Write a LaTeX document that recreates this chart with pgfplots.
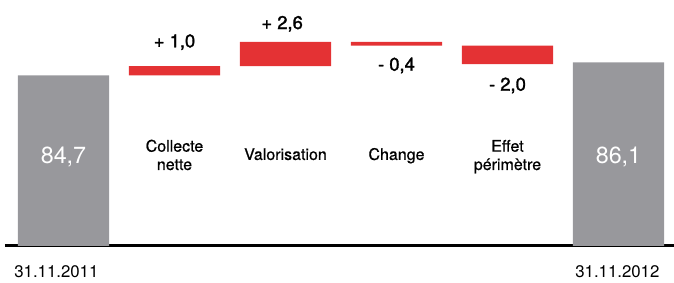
\documentclass[border=0pt]{standalone}
\usepackage{fontspec}
\setmainfont{TeX Gyre Heros}
\newfontfamily\medfont{TeX Gyre Heros}[FakeBold=1.6]
\newfontfamily\catfont{TeX Gyre Heros}[FakeBold=0.6]
\usepackage{pgfplots}
\pgfplotsset{compat=1.18}
\definecolor{wgray}{HTML}{98989C}
\definecolor{wred}{HTML}{E43234}
\begin{document}
\begin{tikzpicture}
\useasboundingbox (0,0) rectangle (505.5pt,211.5pt);
\begin{axis}[at={(0pt,27.225pt)}, anchor=south west, scale only axis,
  width=505.5pt, height=184.275pt,
  xmin=-0.572, xmax=5.5, ymin=66.38, ymax=92.80,
  hide axis, clip mode=individual,
  ybar stacked, bar width=0.82,
  every node/.style={inner sep=0pt},
  after end axis/.code={
    \node[anchor=base, text=white, font=\fontsize{17.5}{20}\selectfont] at (axis cs:0,75.24) {84,7};
    \node[anchor=base, text=white, font=\fontsize{17.5}{20}\selectfont] at (axis cs:5,75.24) {86,1};
  }]
\addplot[fill=none, draw=none] coordinates {(0,0) (1,84.7) (2,85.7) (3,87.9) (4,85.9) (5,0)};
\addplot[fill=wgray, draw=none] coordinates {(0,84.7) (1,0) (2,0) (3,0) (4,0) (5,86.1)};
\addplot[fill=wred, draw=none] coordinates {(0,0) (1,1.0) (2,2.6) (3,0.4) (4,2.0) (5,0)};
\draw[line width=2.25pt] (axis cs:-0.527,66.38) -- (axis cs:5.5,66.38);
\node[anchor=base, font=\medfont\fontsize{13.8}{15}\selectfont] at (axis cs:1,87.71) {+ 1,0};
\node[anchor=base, font=\medfont\fontsize{13.8}{15}\selectfont] at (axis cs:1.97,89.68) {+ 2,6};
\node[anchor=base, font=\medfont\fontsize{13.8}{15}\selectfont] at (axis cs:3,85.20) {- 0,4};
\node[anchor=base, font=\medfont\fontsize{13.8}{15}\selectfont] at (axis cs:4,83.05) {- 2,0};
\node[anchor=base, font=\catfont\fontsize{12}{14}\selectfont] at (axis cs:1,76.49) {Collecte};
\node[anchor=base, font=\catfont\fontsize{12}{14}\selectfont] at (axis cs:1,74.52) {nette};
\node[anchor=base, font=\catfont\fontsize{12}{14}\selectfont] at (axis cs:2,75.60) {Valorisation};
\node[anchor=base, font=\catfont\fontsize{12}{14}\selectfont] at (axis cs:3,75.60) {Change};
\node[anchor=base, font=\catfont\fontsize{12}{14}\selectfont] at (axis cs:4,76.49) {Effet};
\node[anchor=base, font=\catfont\fontsize{12}{14}\selectfont] at (axis cs:4,74.52) {périmètre};
\node[anchor=base, font=\fontsize{12.6}{14}\selectfont] at (axis cs:-0.064,63.01) {31.11.2011};
\node[anchor=base, font=\fontsize{12.6}{14}\selectfont] at (axis cs:4.99,63.01) {31.11.2012};
\end{axis}
\end{tikzpicture}
\end{document}
